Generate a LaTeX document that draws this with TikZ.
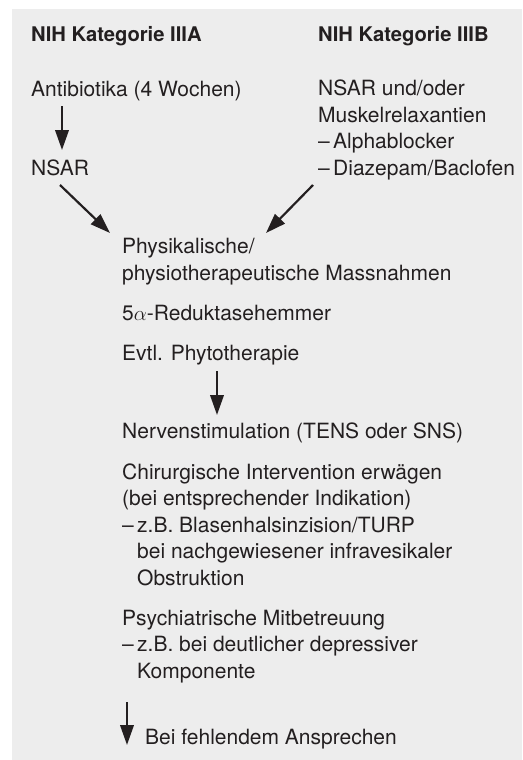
\documentclass[tikz,border=0pt]{standalone}
\usepackage{fontspec}
\setmainfont{TeX Gyre Heros}
\usetikzlibrary{arrows.meta}
\definecolor{bgc}{HTML}{EDEDED}
\definecolor{txc}{HTML}{231F20}
\begin{document}
\begin{tikzpicture}[x=1pt,y=-1pt,
  txt/.style={anchor=base west, inner sep=0pt, align=left, text=txc,
    font=\fontsize{21pt}{26.4pt}\selectfont},
  ttl/.style={txt, font=\fontsize{20.2pt}{26pt}\selectfont\bfseries},
  arr/.style={draw=txc, line width=2.2pt, -{Triangle[length=20pt,width=13.5pt]}}]
\useasboundingbox (0,0) rectangle (522,760);
\fill[white] (0,0) rectangle (522,760);
\fill[bgc] (12,9) rectangle (522,760);
\newcommand{\dsh}{\makebox[15pt][l]{–}}
% multi-line nodes: anchor base = baseline of the last line
\node[ttl] (ta) at (31,42) {NIH Kategorie IIIA};
\node[ttl] (tb) at (318,42) {NIH Kategorie IIIB};
\node[txt] (anti) at (31,96) {Antibiotika (4 Wochen)};
\node[txt] (nsar) at (31,175) {NSAR};
\node[txt] (nsarb) at (318,175) {NSAR und/oder\\Muskelrelaxantien\\\dsh Alphablocker\\\dsh Diazepam/Baclofen};
\node[txt] (phys) at (122,280) {Physikalische/\\physiotherapeutische Massnahmen};
\node[txt] (red) at (122,320) {5$\alpha$-Reduktasehemmer};
\node[txt] (phyto) at (122,360) {Evtl. Phytotherapie};
\node[txt] (nerv) at (122,438) {Nervenstimulation (TENS oder SNS)};
\node[txt] (chir) at (122,585) {Chirurgische Intervention erwägen\\(bei entsprechender Indikation)\\\dsh z.B. Blasenhalsinzision/TURP\\\hspace*{15pt}bei nachgewiesener infravesikaler\\\hspace*{15pt}Obstruktion};
\node[txt] (psy) at (122,678) {Psychiatrische Mitbetreuung\\\dsh z.B. bei deutlicher depressiver\\\hspace*{15pt}Komponente};
\node[txt] (fehl) at (145,744) {Bei fehlendem Ansprechen};
\coordinate (a1s) at (62,106);
\coordinate (a1e) at (62,150);
\coordinate (a2s) at (60,185);
\coordinate (a2e) at (110,233);
\coordinate (a3s) at (313,185);
\coordinate (a3e) at (266,233);
\coordinate (a4s) at (217,371);
\coordinate (a4e) at (217,415);
\coordinate (a5s) at (127,702);
\coordinate (a5e) at (127,745);
\draw[arr] (a1s) -- (a1e);
\draw[arr] (a2s) -- (a2e);
\draw[arr] (a3s) -- (a3e);
\draw[arr] (a4s) -- (a4e);
\draw[arr] (a5s) -- (a5e);
\end{tikzpicture}
\end{document}
